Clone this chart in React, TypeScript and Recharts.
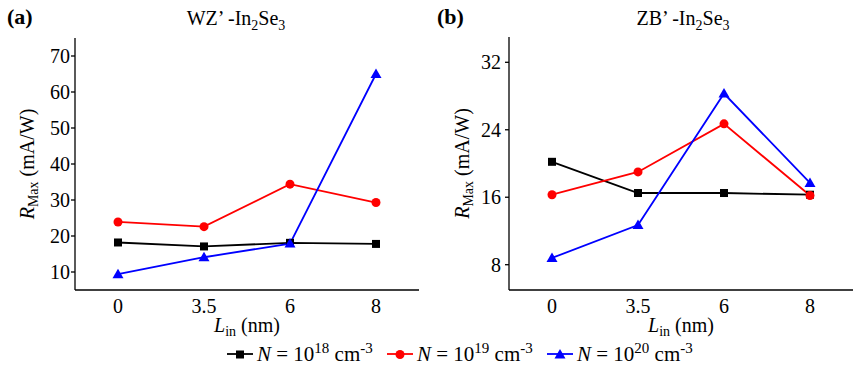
import React from 'react';
import { LineChart, Line, XAxis, YAxis, Label } from 'recharts';

// In-layer thickness categories (nm)
const lengths = ['0', '3.5', '6', '8'];

// WZ'-In2Se3 responsivity (mA/W)
const wzN18 = [18.2, 17.1, 18.1, 17.8];
const wzN19 = [23.9, 22.6, 34.4, 29.3];
const wzN20 = [9.4, 14.1, 17.9, 65.0];

// ZB'-In2Se3 responsivity (mA/W)
const zbN18 = [20.2, 16.5, 16.5, 16.3];
const zbN19 = [16.3, 19.0, 24.7, 16.2];
const zbN20 = [8.8, 12.7, 28.3, 17.7];

const wzTicks = [10, 20, 30, 40, 50, 60, 70];
const zbTicks = [8, 16, 24, 32];

const FONT = 'Liberation Serif';

const series = [
  { key: 'n18', exp: '18', color: '#000000', shape: 'square' },
  { key: 'n19', exp: '19', color: '#ff0000', shape: 'circle' },
  { key: 'n20', exp: '20', color: '#0000ff', shape: 'triangle' },
];

const buildRows = (a: number[], b: number[], c: number[]) =>
  lengths.map((L, i) => ({ L, n18: a[i], n19: b[i], n20: c[i] }));

const wzData = buildRows(wzN18, wzN19, wzN20);
const zbData = buildRows(zbN18, zbN19, zbN20);

const Marker = ({ shape, color, cx, cy }: any) => {
  if (shape === 'square') return <rect x={cx - 4} y={cy - 4} width={8} height={8} fill={color} />;
  if (shape === 'circle') return <circle cx={cx} cy={cy} r={4.5} fill={color} />;
  return <polygon points={`${cx},${cy - 5.5} ${cx - 5.5},${cy + 4} ${cx + 5.5},${cy + 4}`} fill={color} />;
};

const yLabel = (offset: number) => (props: any) => {
  const vb = props.viewBox || {};
  const x = vb.x + offset;
  const y = vb.y + vb.height / 2;
  return (
    <text x={x} y={y} transform={`rotate(-90, ${x}, ${y})`} textAnchor="middle" fontFamily={FONT} fontSize={20} fill="#000">
      <tspan fontStyle="italic">R</tspan>
      <tspan fontSize={14} dy={4}>Max</tspan>
      <tspan dy={-4}> (mA/W)</tspan>
    </text>
  );
};

const xLabel = (props: any) => {
  const vb = props.viewBox || {};
  const x = vb.x + vb.width / 2;
  const y = vb.y + 42;
  return (
    <text x={x} y={y} textAnchor="middle" fontFamily={FONT} fontSize={20} fill="#000">
      <tspan fontStyle="italic">L</tspan>
      <tspan fontSize={14} dy={4}>in</tspan>
      <tspan dy={-4}> (nm)</tspan>
    </text>
  );
};

const tickStyle = { fontFamily: FONT, fontSize: 20, fill: '#000' };

interface PanelProps {
  data: any[];
  ticks: number[];
  domain: [number, number];
  left: number;
  width: number;
  margin: { top: number; right: number; bottom: number; left: number };
  labelOffset: number;
  tickMargin: number;
  pad: number;
}

const Panel = ({ data, ticks, domain, left, width, margin, labelOffset, tickMargin, pad }: PanelProps) => (
  <div style={{ position: 'absolute', left, top: 0 }}>
    <LineChart width={width} height={340} data={data} margin={margin}>
      <XAxis
        dataKey="L"
        type="category"
        height={30}
        padding={{ left: pad, right: pad }}
        tick={tickStyle}
        tickLine={false}
        tickSize={7}
        tickMargin={2}
        axisLine={{ stroke: '#000', strokeWidth: 1.3 }}
      >
        <Label content={xLabel} />
      </XAxis>
      <XAxis xAxisId="top" orientation="top" dataKey="L" height={0} tick={false} tickLine={false} axisLine={{ stroke: '#000', strokeWidth: 1.3 }} />
      <YAxis
        domain={domain}
        ticks={ticks}
        width={40}
        tick={tickStyle}
        tickSize={4}
        tickMargin={tickMargin}
        allowDataOverflow
        tickLine={{ stroke: '#000', strokeWidth: 1.3 }}
        axisLine={{ stroke: '#000', strokeWidth: 1.3 }}
      >
        <Label content={yLabel(labelOffset)} />
      </YAxis>
      <YAxis yAxisId="right" orientation="right" domain={domain} width={0} tick={false} tickLine={false} axisLine={{ stroke: '#000', strokeWidth: 1.3 }} />
      {series.map((s) => (
        <Line
          key={s.key}
          dataKey={s.key}
          stroke={s.color}
          strokeWidth={1.8}
          isAnimationActive={false}
          dot={(p: any) => <Marker key={`${s.key}-${p.index}`} shape={s.shape} color={s.color} cx={p.cx} cy={p.cy} />}
        />
      ))}
    </LineChart>
  </div>
);

const Title = ({ left, top, phase }: { left: number; top: number; phase: string }) => (
  <div style={{ position: 'absolute', left, top, fontFamily: FONT, fontSize: 20, whiteSpace: 'nowrap', transform: 'translateX(-50%)' }}>
    {phase}’ -In<sub style={{ fontSize: 14 }}>2</sub>Se<sub style={{ fontSize: 14 }}>3</sub>
  </div>
);

const PanelTag = ({ left, text }: { left: number; text: string }) => (
  <div style={{ position: 'absolute', left, top: 4, fontFamily: FONT, fontSize: 22, fontWeight: 'bold' }}>{text}</div>
);

const LegendSwatch = ({ shape, color }: { shape: string; color: string }) => (
  <svg width={28} height={12} style={{ marginRight: 3 }}>
    <line x1={1} y1={6} x2={27} y2={6} stroke={color} strokeWidth={1.8} />
    <Marker shape={shape} color={color} cx={14} cy={6.5} />
  </svg>
);

export default function App() {
  return (
    <div style={{ position: 'absolute', left: 0, top: 0, width: 866, height: 385, background: '#fff', fontFamily: FONT }}>
      <PanelTag left={7} text="(a)" />
      <PanelTag left={437} text="(b)" />
      <Title left={236} top={7} phase="WZ" />
      <Title left={683} top={7} phase="ZB" />
      <Panel
        data={wzData}
        ticks={wzTicks}
        domain={[5, 75]}
        left={0}
        width={430}
        margin={{ top: 38, right: 11, bottom: 20, left: 35 }}
        labelOffset={-1}
        tickMargin={1}
        pad={43}
      />
      <Panel
        data={zbData}
        ticks={zbTicks}
        domain={[5, 35]}
        left={430}
        width={436}
        margin={{ top: 37, right: 13, bottom: 20, left: 39 }}
        labelOffset={0}
        tickMargin={4}
        pad={43}
      />
      <div style={{ position: 'absolute', left: 226, top: 340, display: 'flex', alignItems: 'center', fontFamily: FONT, fontSize: 21, whiteSpace: 'nowrap' }}>
        {series.map((s) => (
          <div key={s.key} style={{ display: 'flex', alignItems: 'center', width: 160 }}>
            <LegendSwatch shape={s.shape} color={s.color} />
            <span>
              <i>N</i> = 10<sup style={{ fontSize: 15 }}>{s.exp}</sup> cm<sup style={{ fontSize: 15 }}>-3</sup>
            </span>
          </div>
        ))}
      </div>
    </div>
  );
}
